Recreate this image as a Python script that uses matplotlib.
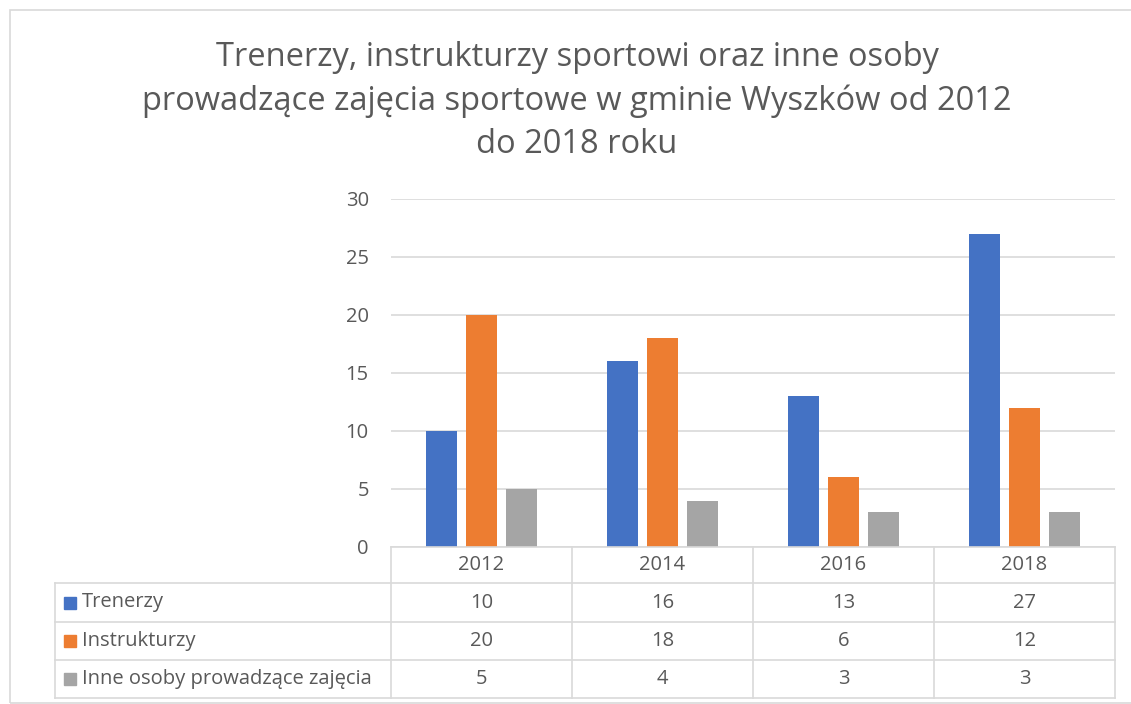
import numpy as np
import matplotlib.pyplot as plt
from matplotlib.patches import Rectangle
from matplotlib.lines import Line2D

plt.rcParams['font.family'] = ['Open Sans', 'DejaVu Sans']

# dane
lata = ['2012', '2014', '2016', '2018']
serie = ['Trenerzy', 'Instrukturzy', 'Inne osoby prowadzące zajęcia']
trenerzy = [10, 16, 13, 27]
instruktorzy = [20, 18, 6, 12]
inne = [5, 4, 3, 3]
kolory = ['#4472C4', '#ED7D31', '#A5A5A5']
tytul = ('Trenerzy, instrukturzy sportowi oraz inne osoby\n'
         'prowadzące zajęcia sportowe w gminie Wyszków od 2012\n'
         'do 2018 roku')

W, H = 1131, 704
txt = '#595959'
siatka = '#D9D9D9'
fs = 14.5

fig = plt.figure(figsize=(W / 100, H / 100), dpi=100)

def fx(px):
    return px / W

def fy(py):
    return 1 - py / H

# ramka wykresu
fig.patches.append(Rectangle((fx(10), fy(703)), fx(1135) - fx(10), fy(10) - fy(703),
                             transform=fig.transFigure, fill=False,
                             edgecolor=siatka, linewidth=1.2))

fig.text(fx(577), fy(101), tytul, ha='center', va='center', fontsize=23.5,
         color=txt, linespacing=1.42)

# obszar słupków
ax = fig.add_axes([fx(391), fy(547), fx(1115) - fx(391), fy(199) - fy(547)])
x = np.arange(len(lata))
szer = 0.17
odst = 0.222
for i, (vals, kol) in enumerate(zip([trenerzy, instruktorzy, inne], kolory)):
    ax.bar(x + (i - 1) * odst, vals, width=szer, color=kol, zorder=3)

ax.set_xlim(-0.5, len(lata) - 0.5)
ax.set_ylim(0, 30)
ax.set_yticks(range(0, 31, 5))
ax.set_xticks([])
ax.grid(axis='y', color=siatka, linewidth=1.2, zorder=0)
for s in ax.spines.values():
    s.set_visible(False)
ax.tick_params(axis='y', length=0, pad=16, labelsize=fs, labelcolor=txt)

# tabela danych
kol_x = [391 + 181 * k for k in range(len(lata) + 1)]
wiersze_y = [547, 583, 622, 660, 698]
lewa = 55
lw = 1.2

def linia(x0, x1, y0, y1):
    fig.lines.append(Line2D([fx(x0), fx(x1)], [fy(y0), fy(y1)],
                            transform=fig.transFigure, color=siatka, linewidth=lw))

linia(kol_x[0], kol_x[-1], wiersze_y[0], wiersze_y[0])
for yy in wiersze_y[1:]:
    linia(lewa, kol_x[-1], yy, yy)
linia(lewa, lewa, wiersze_y[1], wiersze_y[-1])
for xx in kol_x:
    linia(xx, xx, wiersze_y[0], wiersze_y[-1])

for j, rok in enumerate(lata):
    cx = (kol_x[j] + kol_x[j + 1]) / 2
    fig.text(fx(cx), fy((wiersze_y[0] + wiersze_y[1]) / 2), rok,
             ha='center', va='center', fontsize=fs, color=txt)

for r, (nazwa, vals, kol) in enumerate(zip(serie, [trenerzy, instruktorzy, inne], kolory)):
    cy = (wiersze_y[r + 1] + wiersze_y[r + 2]) / 2
    fig.patches.append(Rectangle((fx(64), fy(cy + 6)), fx(12), fy(0) - fy(12),
                                 transform=fig.transFigure, color=kol))
    fig.text(fx(82), fy(cy), nazwa, ha='left', va='center', fontsize=fs, color=txt)
    for j, v in enumerate(vals):
        cx = (kol_x[j] + kol_x[j + 1]) / 2
        fig.text(fx(cx), fy(cy), str(v), ha='center', va='center', fontsize=fs, color=txt)

fig.savefig('out.png', dpi=100)
